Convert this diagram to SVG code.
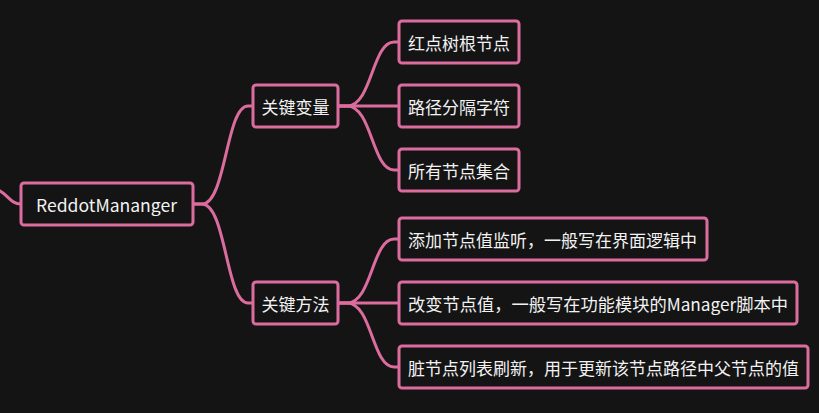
<svg xmlns="http://www.w3.org/2000/svg" width="819" height="413" viewBox="0 0 819 413">
<style>
.bg{fill:#141414}
.box{fill:#141414;stroke:#DB6C9D;stroke-width:3}
.t{fill:#F2F2F2;font-family:"Microsoft YaHei","Noto Sans CJK SC","Noto Sans",sans-serif;font-size:17px;dominant-baseline:central}
.c{fill:none;stroke:#DB6C9D;stroke-width:3;stroke-linecap:round}
</style>
<rect class="bg" x="0" y="0" width="819" height="413"/>
<g id="connectors">
<path class="c" d="M-2,190 C8,194 10,204 21,204"/>
<path class="c" d="M193,204 L202,204 C226,204 226,106 248,106 L253,106"/>
<path class="c" d="M193,204 L202,204 C226,204 226,303 248,303 L253,303"/>
<path class="c" d="M338,106 L347,106 C372,106 372,42 394,42 L399,42"/>
<path class="c" d="M338,106 L399,106"/>
<path class="c" d="M338,106 L347,106 C372,106 372,170 394,170 L399,170"/>
<path class="c" d="M338,303 L347,303 C372,303 372,239 394,239 L399,239"/>
<path class="c" d="M338,303 L399,303"/>
<path class="c" d="M338,303 L347,303 C372,303 372,367 394,367 L399,367"/>
</g>
<g id="root"><rect class="box" x="21" y="183" width="172" height="42" rx="3"/><text class="t" x="36" y="204" textLength="141" lengthAdjust="spacingAndGlyphs">ReddotMananger</text></g>
<g id="n_vars"><rect class="box" x="253" y="85" width="85" height="42" rx="3"/><text class="t" x="295.5" y="106" text-anchor="middle">关键变量</text></g>
<g id="n_methods"><rect class="box" x="253" y="282" width="85" height="42" rx="3"/><text class="t" x="295.5" y="303" text-anchor="middle">关键方法</text></g>
<g id="v1"><rect class="box" x="399" y="21" width="120" height="42" rx="3"/><text class="t" x="408" y="42">红点树根节点</text></g>
<g id="v2"><rect class="box" x="399" y="85" width="120" height="42" rx="3"/><text class="t" x="408" y="106">路径分隔字符</text></g>
<g id="v3"><rect class="box" x="399" y="149" width="120" height="42" rx="3"/><text class="t" x="408" y="170">所有节点集合</text></g>
<g id="m1"><rect class="box" x="399" y="218" width="308" height="42" rx="3"/><text class="t" x="408" y="239">添加节点值监听，一般写在界面逻辑中</text></g>
<g id="m2"><rect class="box" x="399" y="282" width="398" height="42" rx="3"/><text class="t" x="408" y="303" textLength="380" lengthAdjust="spacingAndGlyphs">改变节点值，一般写在功能模块的Manager脚本中</text></g>
<g id="m3"><rect class="box" x="399" y="346" width="409" height="42" rx="3"/><text class="t" x="408" y="367">脏节点列表刷新，用于更新该节点路径中父节点的值</text></g>
</svg>
